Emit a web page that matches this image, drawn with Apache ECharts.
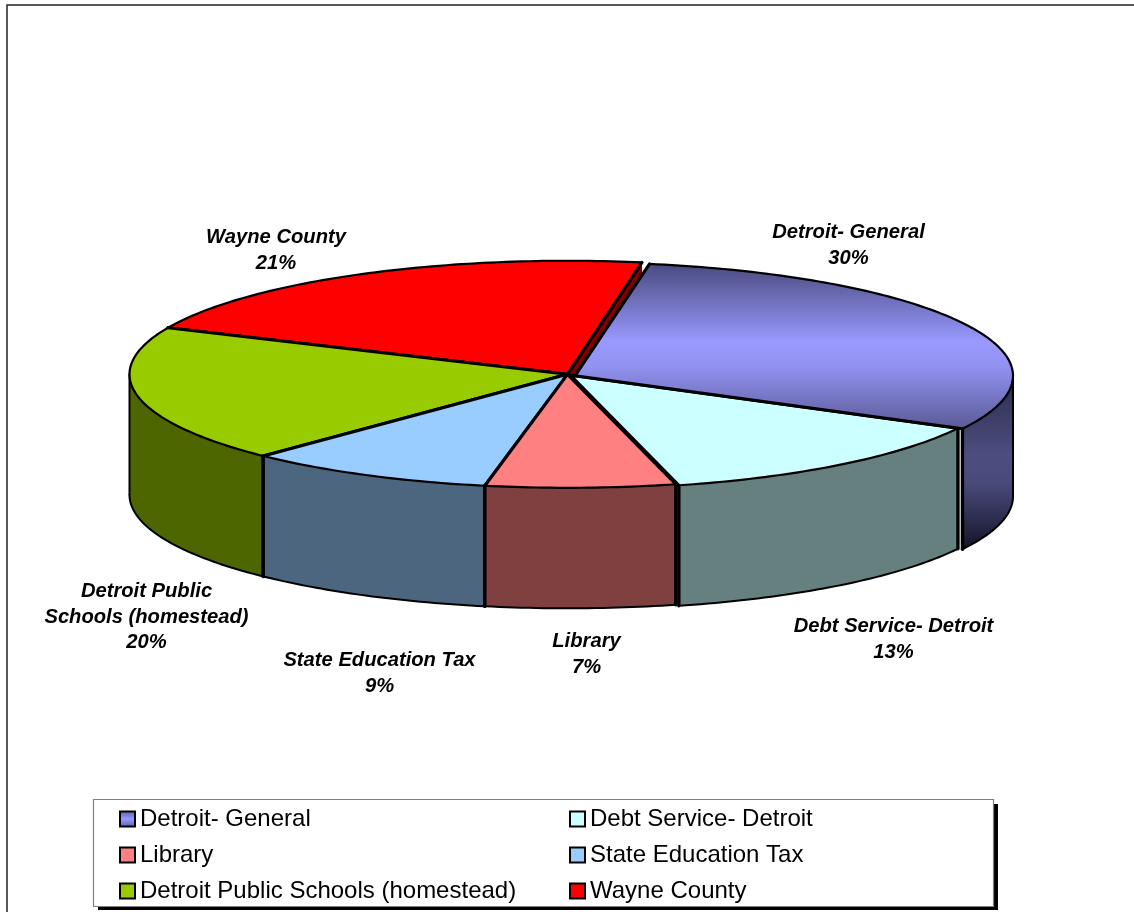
<!DOCTYPE html>
<html><head><meta charset="utf-8">
<style>html,body{margin:0;padding:0;background:#fff}#c{width:1134px;height:912px}</style>
<script src="https://cdn.jsdelivr.net/npm/echarts@6/dist/echarts.min.js"></script>
</head><body><div id="c"></div>
<script>
// data
const categories = ['Detroit- General','Debt Service- Detroit','Library','State Education Tax','Detroit Public Schools (homestead)','Wayne County'];
const shares = [30, 13.3, 7, 9.2, 19.5, 21];
const topColors = ['#9999ff','#ccffff','#ff8080','#99ccff','#99cc00','#ff0000'];
const wallColors = ['#4d4d80','#668080','#804040','#4d6680','#4d6600','#800000'];
const labelLines = [['Detroit- General'],['Debt Service- Detroit'],['Library'],['State Education Tax'],['Detroit Public','Schools (homestead)'],['Wayne County']];

// layout of the tilted pie
const CX=567.5, CY=374.3, RX=438, RY=113.5, DEPTH=120.5, START=9.8;
const sliceOffset=[[7.5,1.5],[3,1],[0,0],[0,0],[0,0],[0,0]];
const labelAnchor=[[848.5,232.7],[893.5,626.7],[586.5,641.7],[379.5,660.7],[146.5,591.7],[276,237.7]];
const drawOrder=[5,4,3,2,1,0];
const LINE=25.5;

const total=shares.reduce((a,b)=>a+b,0);
function angles(i){let s=START;for(let k=0;k<i;k++)s+=shares[k]/total*360;return [s,s+shares[i]/total*360];}
function rim(a,o,d){const r=a*Math.PI/180;return [CX+o[0]+RX*Math.sin(r),CY+o[1]-RY*Math.cos(r)+(d||0)];}
function arc(a0,a1,o,d){const n=Math.max(2,Math.ceil(Math.abs(a1-a0)));const p=[];for(let j=0;j<=n;j++)p.push(rim(a0+(a1-a0)*j/n,o,d));return p;}
const grad=(st)=>({type:'linear',x:0,y:0,x2:0,y2:1,colorStops:st});
const generalTop=grad([{offset:0,color:'#4a4a80'},{offset:0.47,color:'#9999ff'},{offset:0.62,color:'#9292f2'},{offset:1,color:'#5a5a96'}]);
const generalWall=grad([{offset:0,color:'#2c2c4c'},{offset:0.45,color:'#4d4d80'},{offset:0.62,color:'#4a4a7a'},{offset:1,color:'#14142a'}]);
const legendGeneral=grad([{offset:0,color:'#5c5ca0'},{offset:0.5,color:'#9999ff'},{offset:1,color:'#5c5ca0'}]);

const line=(pts,w)=>({type:'polyline',shape:{points:pts},style:{stroke:'#000',lineWidth:w,fill:null,lineJoin:'round',lineCap:'round'}});

function sliceItem(i){
  return function(params,api){
    const share=api.value(0);
    const [a0,a1]=angles(i);
    const o=sliceOffset[i];
    const children=[];
    // interior cut wall seen through the gap of the pulled-out slice
    if(i===5){
      const e=rim(a1,o),c=[CX,CY];
      children.push({type:'polygon',shape:{points:[c,e,[e[0],e[1]+DEPTH],[c[0],c[1]+DEPTH]]},style:{fill:wallColors[i]}});
    }
    // outer wall on the visible front half
    const w0=Math.max(a0,90),w1=Math.min(a1,270);
    if(w1>w0){
      const up=arc(w0,w1,o,0),low=arc(w0,w1,o,DEPTH);
      children.push({type:'polygon',shape:{points:up.concat(low.slice().reverse())},style:{fill:i===0?generalWall:wallColors[i]}});
      children.push(line(low,2));
      children.push(line([up[0],low[0]],w0===90?2:3.4));
      children.push(line([up[up.length-1],low[low.length-1]],w1===270?2:3.4));
    }
    // top face
    const c=[CX+o[0],CY+o[1]];
    const top=arc(a0,a1,o,0);
    children.push({type:'polygon',shape:{points:[c].concat(top)},style:{fill:i===0?generalTop:topColors[i]}});
    children.push(line(top,2.2));
    children.push(line([top[0],c,top[top.length-1]],3.1));
    // label
    const lines=labelLines[i].concat([Math.round(share)+'%']);
    lines.forEach((t,k)=>children.push({type:'text',z2:50,style:{text:t,x:labelAnchor[i][0],y:labelAnchor[i][1]+k*LINE,align:'center',verticalAlign:'middle',fill:'#000',font:'italic bold 20.2px "Liberation Sans", Arial, sans-serif'}}));
    return {type:'group',children};
  };
}

const series=categories.map((name,i)=>({
  type:'custom',name,coordinateSystem:'none',silent:true,animation:false,
  z:2+drawOrder.indexOf(i),
  itemStyle:{color:i===0?legendGeneral:topColors[i],borderColor:'#000',borderWidth:2},
  data:[[shares[i]]],
  renderItem:sliceItem(i)
}));

const legendBase={orient:'vertical',top:802,height:300,itemWidth:15,itemHeight:15,itemGap:12,icon:'rect',selectedMode:false,z:20,
  textStyle:{fontFamily:'"Liberation Sans", Arial, sans-serif',fontSize:24,color:'#000',padding:[0,0,0,0],height:21,lineHeight:21},
  itemStyle:{borderColor:'#000',borderWidth:2}};

const chart=echarts.init(document.getElementById('c'),null,{renderer:'canvas'});
chart.setOption({
  animation:false,backgroundColor:'#fff',
  legend:[
    Object.assign({},legendBase,{left:114,data:[categories[0],categories[2],categories[4]]}),
    Object.assign({},legendBase,{left:564,data:[categories[1],categories[3],categories[5]]})
  ],
  graphic:[
    {type:'polyline',z:0,shape:{points:[[7,912],[7,5],[1134,5]]},style:{stroke:'#222',lineWidth:1.5,fill:null}},
    {type:'rect',z:1,shape:{x:98,y:804,width:900,height:106},style:{fill:'#000'}},
    {type:'rect',z:1,shape:{x:93.5,y:799.5,width:900,height:107},style:{fill:'#fff',stroke:'#808080',lineWidth:1.2}}
  ],
  series
});
</script></body></html>
